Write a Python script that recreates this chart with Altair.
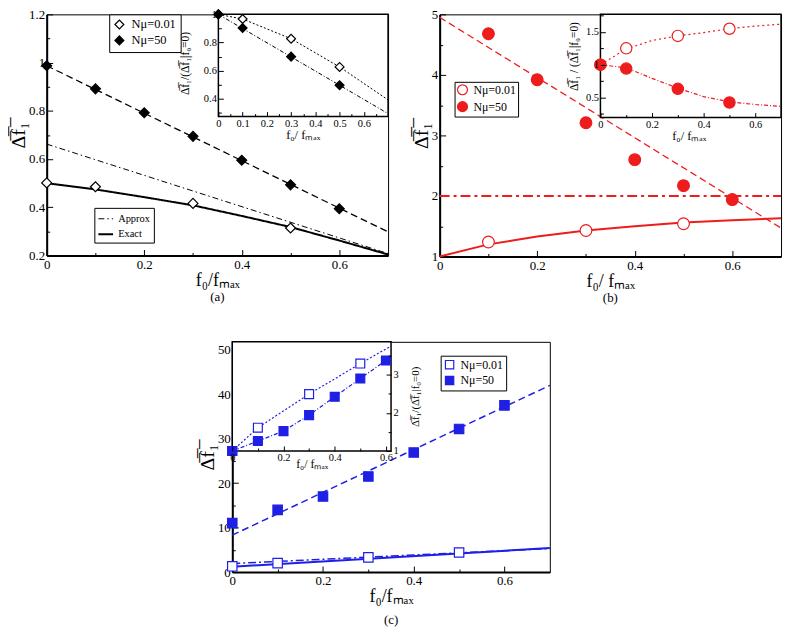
import altair as alt
import pandas as pd

SERIF = "Liberation Serif"
RED = "#ee1c1c"
BLUE = "#1f1fe6"
OV = "\u0305"
SERIES = ["Nμ=0.01", "Nμ=50"]
KINDS = ["Approx", "Exact"]

YT_MAIN = "Δ" + OV + "f" + OV + "₁" + OV
YT_INSET = "Δ" + OV + "f" + OV + "₁/(Δ" + OV + "f" + OV + "₁|f₀=0)"
YT_INSET_B = "Δ" + OV + "f" + OV + "₁ / (Δ" + OV + "f" + OV + "₁|f₀=0)"
XT_MAIN = "f₀/fₘₐₓ"
XT_B = "f₀/ fₘₐₓ"

# ---------------- Panel (a) data ----------------
A_X_LOW = [0.0, 0.1, 0.3, 0.5]
A_Y_LOW = [0.501, 0.485, 0.416, 0.314]
A_X_HIGH = [0.0, 0.1, 0.2, 0.3, 0.4, 0.5, 0.6]
A_Y_HIGH = [0.987, 0.891, 0.792, 0.694, 0.595, 0.493, 0.394]
A_FIT_X = [0.0, 0.7]
A_FIT_Y = [0.987, 0.298]
A_APPROX_X = [0.0, 0.7]
A_APPROX_Y = [0.662, 0.208]
A_EXACT_X = [0.0, 0.1, 0.2, 0.3, 0.4, 0.5, 0.6, 0.7]
A_EXACT_Y = [0.500, 0.474, 0.442, 0.408, 0.364, 0.318, 0.262, 0.204]
AI_X_LOW = [0.0, 0.1, 0.3, 0.5]
AI_Y_LOW = [1.0, 0.967, 0.827, 0.627]
AI_X_HIGH = [0.0, 0.1, 0.3, 0.5]
AI_Y_HIGH = [1.0, 0.903, 0.700, 0.497]
AI_LLOW_X = [0.0, 0.1, 0.3, 0.5, 0.7]
AI_LLOW_Y = [1.0, 0.967, 0.827, 0.627, 0.393]
AI_LHIGH_X = [0.0, 0.7]
AI_LHIGH_Y = [1.0, 0.296]

# ---------------- Panel (b) data ----------------
B_X_LOW = [0.1, 0.3, 0.5]
B_Y_LOW = [1.24, 1.43, 1.54]
B_X_HIGH = [0.1, 0.2, 0.3, 0.4, 0.5, 0.6]
B_Y_HIGH = [4.68, 3.92, 3.21, 2.60, 2.17, 1.94]
B_FIT_X = [0.0, 0.7]
B_FIT_Y = [4.95, 1.47]
B_APPROX_X = [0.0, 0.7]
B_APPROX_Y = [2.0, 2.0]
B_EXACT_X = [0.0, 0.1, 0.2, 0.3, 0.4, 0.5, 0.6, 0.7]
B_EXACT_Y = [1.0, 1.20, 1.33, 1.43, 1.50, 1.56, 1.60, 1.63]
BI_X_LOW = [0.0, 0.1, 0.3, 0.5]
BI_Y_LOW = [1.0, 1.25, 1.44, 1.55]
BI_X_HIGH = [0.0, 0.1, 0.3, 0.5]
BI_Y_HIGH = [1.0, 0.94, 0.63, 0.42]
BI_LLOW_X = [0.0, 0.1, 0.2, 0.3, 0.4, 0.5, 0.6, 0.7]
BI_LLOW_Y = [1.0, 1.24, 1.37, 1.44, 1.49, 1.55, 1.59, 1.62]
BI_LHIGH_X = [0.0, 0.1, 0.2, 0.3, 0.4, 0.5, 0.6, 0.7]
BI_LHIGH_Y = [1.0, 0.95, 0.79, 0.64, 0.51, 0.43, 0.39, 0.36]

# ---------------- Panel (c) data ----------------
C_X_LOW = [0.0, 0.1, 0.3, 0.5]
C_Y_LOW = [1.3, 2.0, 3.3, 4.4]
C_X_HIGH = [0.0, 0.1, 0.2, 0.3, 0.4, 0.5, 0.6]
C_Y_HIGH = [11.0, 14.0, 17.0, 21.5, 26.9, 32.2, 37.5]
C_FIT_X = [0.0, 0.7]
C_FIT_Y = [8.3, 42.0]
C_APPROX_X = [0.0, 0.7]
C_APPROX_Y = [1.9, 5.3]
C_EXACT_X = [0.0, 0.7]
C_EXACT_Y = [1.2, 5.4]
CI_X_LOW = [0.0, 0.1, 0.3, 0.5]
CI_Y_LOW = [1.0, 1.61, 2.49, 3.29]
CI_X_HIGH = [0.0, 0.1, 0.2, 0.3, 0.4, 0.5, 0.6]
CI_Y_HIGH = [1.0, 1.26, 1.52, 1.94, 2.42, 2.90, 3.37]
CI_LLOW_X = [0.0, 0.1, 0.3, 0.5, 0.62]
CI_LLOW_Y = [1.0, 1.61, 2.49, 3.29, 3.75]
CI_LHIGH_X = [0.0, 0.1, 0.2, 0.3, 0.4, 0.5, 0.6, 0.62]
CI_LHIGH_Y = [1.0, 1.26, 1.52, 1.94, 2.42, 2.90, 3.37, 3.46]

# ---------------- tick values ----------------
X_MAJ = [0.0, 0.2, 0.4, 0.6]
X_MIN = [0.1, 0.3, 0.5]
A_YMAJ = [0.2, 0.4, 0.6, 0.8, 1.0, 1.2]
A_YMIN = [0.3, 0.5, 0.7, 0.9, 1.1]
AI_XMAJ = [0.0, 0.1, 0.2, 0.3, 0.4, 0.5, 0.6]
AI_XMIN = [0.05, 0.15, 0.25, 0.35, 0.45, 0.55, 0.65]
AI_YMAJ = [0.4, 0.6, 0.8, 1.0]
AI_YMIN = [0.3, 0.5, 0.7, 0.9]
B_YMAJ = [1, 2, 3, 4, 5]
B_YMIN = [1.5, 2.5, 3.5, 4.5]
BI_YMAJ = [0.5, 1.0, 1.5]
BI_YMIN = [0.25, 0.75, 1.25, 1.75]
C_YMAJ = [0, 10, 20, 30, 40, 50]
C_YMIN = [5, 15, 25, 35, 45]
CI_YMAJ = [1, 2, 3]
CI_YMIN = [1.5, 2.5, 3.5]


def scale(dom):
    return alt.Scale(domain=list(dom), nice=False, zero=False)


def ext(d0, d1, p0, p1, P):
    s = (d1 - d0) / (p1 - p0)
    return [d0 - p0 * s, d0 + (P - p0) * s]


def enc(xs, ys):
    return dict(x=alt.X("x:Q", scale=xs, axis=None), y=alt.Y("y:Q", scale=ys, axis=None))


def line(x, y, xs, ys, color, width, dash=None):
    kw = dict(color=color, strokeWidth=width)
    if dash:
        kw["strokeDash"] = dash
    return alt.Chart(pd.DataFrame({"x": x, "y": y})).mark_line(**kw).encode(**enc(xs, ys))


def pts(x, y, xs, ys, shape, fill, stroke, size):
    return alt.Chart(pd.DataFrame({"x": x, "y": y})).mark_point(
        shape=shape, filled=True, fill=fill, stroke=stroke, strokeWidth=1.2, size=size, opacity=1
    ).encode(**enc(xs, ys))


def rect(x0, x1, y0, y1, xs, ys):
    d = pd.DataFrame({"x": [x0], "x2": [x1], "y": [y0], "y2": [y1]})
    return alt.Chart(d).mark_rect(fill="white", stroke="black", strokeWidth=1.5).encode(
        x=alt.X("x:Q", scale=xs, axis=None), x2="x2:Q",
        y=alt.Y("y:Q", scale=ys, axis=None), y2="y2:Q")


def legend_pts(xl, yl, xh, yh, xs, ys, shape, color, size, lx, ly, lsize, fsize,
               pad=4, rowpad=1, loff=6):
    d = pd.concat([pd.DataFrame({"x": xl, "y": yl, "s": SERIES[0]}),
                   pd.DataFrame({"x": xh, "y": yh, "s": SERIES[1]})])
    return alt.Chart(d).mark_point(
        shape=shape, filled=True, stroke=color, strokeWidth=1.2, size=size, opacity=1
    ).encode(
        **enc(xs, ys),
        fill=alt.Fill("s:N", scale=alt.Scale(domain=SERIES, range=["white", color]),
                      legend=alt.Legend(orient="none", legendX=lx, legendY=ly, title=None,
                                        strokeColor="black", fillColor="white", padding=pad,
                                        symbolType=shape, symbolSize=lsize, symbolStrokeColor=color,
                                        symbolStrokeWidth=1.2, labelFont=SERIF, labelFontSize=fsize,
                                        labelColor="black", rowPadding=rowpad, labelOffset=loff,
                                        cornerRadius=0)))


def ax_layer(cx, cy, xs, ys, xa, ya):
    return alt.Chart(pd.DataFrame({"x": cx, "y": cy})).mark_point(opacity=0, size=1).encode(
        x=alt.X("x:Q", scale=xs, axis=alt.Axis(**xa)),
        y=alt.Y("y:Q", scale=ys, axis=alt.Axis(**ya)))


def tick_ax(orient, offset, values, size, z):
    return dict(orient=orient, offset=offset, values=values, labels=False, domain=False,
                ticks=True, tickSize=size, tickWidth=1, tickColor="black", grid=False,
                title=None, zindex=z)


def label_ax(orient, offset, values, fsize, title, tsize, z, **kw):
    d = dict(orient=orient, offset=offset, values=values, format=".2~r", labels=True, ticks=False,
             domain=False, grid=False, labelFont=SERIF, labelFontSize=fsize, labelColor="black",
             labelFlush=False, labelOverlap=False, labelPadding=2, title=title, titleFont=SERIF,
             titleFontSize=tsize, titleFontWeight="normal", titleColor="black", zindex=z)
    d.update(kw)
    return d


def tick_layers(cx, cy, xs, ys, ox, offx, oy, offy, xmaj, xmin, ymaj, ymin, z, big, small):
    return [
        ax_layer(cx, cy, xs, ys, tick_ax(ox, offx, xmaj, big, z), tick_ax(oy, offy, ymaj, big, z)),
        ax_layer(cx, cy, xs, ys, tick_ax(ox, offx, xmin, small, z), tick_ax(oy, offy, ymin, small, z)),
    ]


def main_axes(cx, cy, xs, ys, W, H, xmaj, xmin, ymaj, ymin, xlab, ylab):
    # labels outside, ticks pointing inward at the bottom and left edges
    return [ax_layer(cx, cy, xs, ys, xlab, ylab)] + tick_layers(
        cx, cy, xs, ys, "top", -H, "right", -W, xmaj, xmin, ymaj, ymin, 0, 6, 3)


def inset_axes(cx, cy, xs, ys, W, H, L, R, T, B, xmaj, xmin, ymaj, ymin, xlab, ylab, yside="left"):
    if yside == "left":
        oy, offy = "right", L - W
    else:
        oy, offy = "left", -R
    return [ax_layer(cx, cy, xs, ys, xlab, ylab)] + tick_layers(
        cx, cy, xs, ys, "top", -B, oy, offy, xmaj, xmin, ymaj, ymin, 1, 5, 3)


def main_labels(W, H, ymaj, xtitle):
    return (label_ax("bottom", 0, X_MAJ, 13, xtitle, 18, 0, labelPadding=3, titlePadding=0,
                     domain=True, domainWidth=2, domainColor="black"),
            label_ax("left", 0, ymaj, 13, YT_MAIN, 20, 0, titlePadding=0,
                     domain=True, domainWidth=2, domainColor="black"))


def ptitle(t, off):
    return alt.TitleParams(t, orient="bottom", frame="group", font=SERIF, fontSize=13,
                           fontWeight="normal", color="black", offset=off)


# ================= Panel (a) =================
WA, HA = 344, 243
xa, ya = scale([0, 0.7]), scale([0.2, 1.2])
LA, RA, TA, BA = 173, 344, 0, 103
xai = scale(ext(0, 0.7, LA, RA, WA))
yai = scale(ext(0.275, 1.0, HA - BA, HA - TA, HA))

ae = pd.concat([pd.DataFrame({"x": A_APPROX_X, "y": A_APPROX_Y, "k": KINDS[0]}),
                pd.DataFrame({"x": A_EXACT_X, "y": A_EXACT_Y, "k": KINDS[1]})])
approx_exact_a = alt.Chart(ae).mark_line(color="black").encode(
    **enc(xa, ya),
    strokeDash=alt.StrokeDash("k:N", scale=alt.Scale(domain=KINDS, range=[[6, 3, 1.5, 3], [1, 0]]),
                              legend=alt.Legend(orient="none", legendX=48, legendY=195, title=None,
                                                strokeColor="black", fillColor="white", padding=3,
                                                symbolType="stroke", symbolSize=220,
                                                symbolStrokeColor="black", symbolStrokeWidth=1.3,
                                                labelFont=SERIF, labelFontSize=10.5, labelColor="black",
                                                rowPadding=1, labelOffset=4, cornerRadius=0)),
    strokeWidth=alt.StrokeWidth("k:O", scale=alt.Scale(domain=KINDS, range=[1.0, 2.0]), legend=None),
)

main_a = alt.layer(
    *main_axes([0, 0.7], [0.2, 1.2], xa, ya, WA, HA, X_MAJ, X_MIN, A_YMAJ, A_YMIN,
               *main_labels(WA, HA, A_YMAJ, XT_MAIN)),
    line(A_FIT_X, A_FIT_Y, xa, ya, "black", 1.3, [7, 4]),
    approx_exact_a,
    legend_pts(A_X_LOW, A_Y_LOW, A_X_HIGH, A_Y_HIGH, xa, ya, "diamond", "black", 100, 63, 0, 80, 12.5),
).resolve_axis(x="independent", y="independent")

inset_a = alt.layer(
    rect(0, 0.7, 0.275, 1.0, xai, yai),
    line(AI_LLOW_X, AI_LLOW_Y, xai, yai, "black", 1, [2, 2]),
    line(AI_LHIGH_X, AI_LHIGH_Y, xai, yai, "black", 1, [4, 2, 1, 2]),
    pts(AI_X_LOW, AI_Y_LOW, xai, yai, "diamond", "white", "black", 80),
    pts(AI_X_HIGH, AI_Y_HIGH, xai, yai, "diamond", "black", "black", 80),
    *inset_axes([0, 0.7], [0.3, 1.0], xai, yai, WA, HA, LA, RA, TA, BA,
                AI_XMAJ, AI_XMIN, AI_YMAJ, AI_YMIN,
                label_ax("bottom", BA - HA, AI_XMAJ, 10.5, XT_B, 12.5, 1,
                         titleX=258, titleY=12, titleBaseline="top", titleAlign="center"),
                label_ax("left", -LA, AI_YMAJ, 10.5, YT_INSET, 11.5, 1,
                         titleX=-33, titleY=49, titleAngle=270, titleBaseline="middle",
                         titleAlign="center")),
).resolve_axis(x="independent", y="independent")

panel_a = alt.layer(main_a, inset_a).resolve_scale(x="independent", y="independent").properties(
    width=WA, height=HA, title=ptitle("(a)", 2))

# ================= Panel (b) =================
WB, HB = 344, 244
xb, yb = scale([0, 0.7]), scale([1, 5])
LB, RB, TB, BB = 162, 344, 0, 104
xbi = scale(ext(0, 0.7, LB, RB, WB))
ybi = scale(ext(0.19, 1.77, HB - BB, HB - TB, HB))

main_b = alt.layer(
    *main_axes([0, 0.7], [1, 5], xb, yb, WB, HB, X_MAJ, X_MIN, B_YMAJ, B_YMIN,
               *main_labels(WB, HB, B_YMAJ, XT_B)),
    line(B_FIT_X, B_FIT_Y, xb, yb, RED, 1.3, [7, 4]),
    line(B_APPROX_X, B_APPROX_Y, xb, yb, RED, 2, [10, 4, 3, 4]),
    line(B_EXACT_X, B_EXACT_Y, xb, yb, RED, 2),
    legend_pts(B_X_LOW, B_Y_LOW, B_X_HIGH, B_Y_HIGH, xb, yb, "circle", RED, 140, 15, 68, 100, 12,
               pad=2, rowpad=1, loff=5),
).resolve_axis(x="independent", y="independent")

inset_b = alt.layer(
    rect(0, 0.7, 0.19, 1.77, xbi, ybi),
    line(BI_LLOW_X, BI_LLOW_Y, xbi, ybi, RED, 1.2, [2, 3]),
    line(BI_LHIGH_X, BI_LHIGH_Y, xbi, ybi, RED, 1.2, [4, 2, 1, 2]),
    pts(BI_X_LOW, BI_Y_LOW, xbi, ybi, "circle", "white", RED, 130),
    pts(BI_X_HIGH, BI_Y_HIGH, xbi, ybi, "circle", RED, RED, 130),
    *inset_axes([0, 0.7], [0.5, 1.5], xbi, ybi, WB, HB, LB, RB, TB, BB,
                X_MAJ, X_MIN, BI_YMAJ, BI_YMIN,
                label_ax("bottom", BB - HB, X_MAJ, 10.5, XT_B, 12.5, 1,
                         titleX=251, titleY=12, titleBaseline="top", titleAlign="center"),
                label_ax("left", -LB, BI_YMAJ, 10.5, YT_INSET_B, 11.5, 1,
                         titleX=-26, titleY=42, titleAngle=270, titleBaseline="middle",
                         titleAlign="center")),
).resolve_axis(x="independent", y="independent")

panel_b = alt.layer(main_b, inset_b).resolve_scale(x="independent", y="independent").properties(
    width=WB, height=HB, title=ptitle("(b)", 2))

# ================= Panel (c) =================
WC, HC = 320, 232
xc, yc = scale([0, 0.7]), scale([0, 51.8])
LC, RC, TC, BC = 0, 160, 0, 110
xci = scale(ext(0, 0.62, LC, RC, WC))
yci = scale(ext(1, 3.86, HC - BC, HC - TC, HC))

main_c = alt.layer(
    *main_axes([0, 0.7], [0, 50], xc, yc, WC, HC, X_MAJ, X_MIN, C_YMAJ, C_YMIN,
               *main_labels(WC, HC, C_YMAJ, XT_MAIN)),
    line(C_FIT_X, C_FIT_Y, xc, yc, BLUE, 1.5, [7, 4]),
    line(C_APPROX_X, C_APPROX_Y, xc, yc, BLUE, 1.5, [8, 3, 2, 3]),
    line(C_EXACT_X, C_EXACT_Y, xc, yc, BLUE, 2),
    legend_pts(C_X_LOW, C_Y_LOW, C_X_HIGH, C_Y_HIGH, xc, yc, "square", BLUE, 90, 210, 14, 70, 12,
               pad=3, rowpad=2, loff=5),
).resolve_axis(x="independent", y="independent")

inset_c = alt.layer(
    rect(0, 0.62, 1, 3.86, xci, yci),
    line(CI_LLOW_X, CI_LLOW_Y, xci, yci, BLUE, 1.2, [2, 2]),
    line(CI_LHIGH_X, CI_LHIGH_Y, xci, yci, BLUE, 1.2, [4, 2, 1, 2]),
    pts(CI_X_LOW, CI_Y_LOW, xci, yci, "square", "white", BLUE, 80),
    pts(CI_X_HIGH, CI_Y_HIGH, xci, yci, "square", BLUE, BLUE, 80),
    *inset_axes([0, 0.6], [1, 3], xci, yci, WC, HC, LC, RC, TC, BC,
                X_MAJ, X_MIN, CI_YMAJ, CI_YMIN,
                label_ax("bottom", BC - HC, X_MAJ, 10.5, XT_B, 12, 1,
                         titleX=80, titleY=8, titleBaseline="top", titleAlign="center"),
                label_ax("right", RC - WC, CI_YMAJ, 10.5, YT_INSET, 11, 1,
                         titleX=25, titleY=55, titleAngle=270, titleBaseline="middle",
                         titleAlign="center"),
                yside="right"),
).resolve_axis(x="independent", y="independent")

panel_c = alt.layer(main_c, inset_c).resolve_scale(x="independent", y="independent").properties(
    width=WC, height=HC, title=ptitle("(c)", 8))

spacer = alt.Chart(pd.DataFrame({"x": [0, 1], "y": [0, 1]})).mark_point(opacity=0, size=1).encode(
    x=alt.X("x:Q", axis=None, scale=alt.Scale(domain=[0, 1])),
    y=alt.Y("y:Q", axis=None, scale=alt.Scale(domain=[0, 1]))
).properties(width=187, height=1, view=alt.ViewBackground(stroke="transparent"))

RES = dict(fill="independent", shape="independent", strokeDash="independent",
           strokeWidth="independent", stroke="independent")

top = alt.hconcat(panel_a, panel_b, spacing=52, bounds="flush").resolve_scale(**RES)
bottom = alt.hconcat(spacer, panel_c, spacing=0, bounds="flush").resolve_scale(**RES)
chart = alt.vconcat(top, bottom, spacing=34).resolve_scale(**RES).properties(
    padding={"left": 0, "top": -4, "right": 0, "bottom": 0}, background="white"
).configure_view(stroke="black", strokeWidth=1).configure_axis(
    labelFont=SERIF, titleFont=SERIF
).configure_legend(labelFont=SERIF)

chart.save("out.html", embed_options={"renderer": "svg", "actions": False})
